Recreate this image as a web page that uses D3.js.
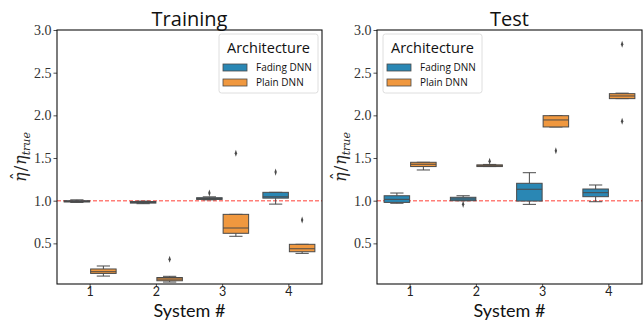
<!DOCTYPE html>
<html>
<head>
<meta charset="utf-8">
<script src="https://cdn.jsdelivr.net/npm/d3@7"></script>
<style>
  body { margin: 0; background: #fff; }
  svg { display: block; }
  .sans { font-family: "Open Sans", "DejaVu Sans", sans-serif; }
  .tick-sans { font-family: Lato, "Open Sans", sans-serif; }
  .serif { font-family: "Liberation Serif", "DejaVu Serif", serif; }
  .math { font-family: "DejaVu Serif", serif; font-style: italic; }
</style>
</head>
<body>
<svg id="chart" width="643" height="321"></svg>
<script>
// categories and series
const systems = ['1', '2', '3', '4'];
const architectures = ['Fading DNN', 'Plain DNN'];
const yTicks = [0.5, 1.0, 1.5, 2.0, 2.5, 3.0];

// box stats per system: [whisker low, q1, median, q3, whisker high]
const trainFading = [
  [0.98, 0.985, 0.99, 1.0, 1.01],
  [0.965, 0.972, 0.98, 0.99, 0.995],
  [1.01, 1.015, 1.025, 1.035, 1.045],
  [0.96, 1.03, 1.045, 1.098, 1.098]
];
const trainFadingOut = [[], [], [1.09], [1.335]];
const trainPlain = [
  [0.117, 0.148, 0.168, 0.20, 0.235],
  [0.047, 0.062, 0.082, 0.10, 0.114],
  [0.583, 0.618, 0.68, 0.84, 0.84],
  [0.383, 0.402, 0.437, 0.489, 0.489]
];
const trainPlainOut = [[], [0.313], [1.556], [0.774]];

const testFading = [
  [0.97, 0.98, 1.016, 1.058, 1.09],
  [1.0, 1.0, 1.02, 1.04, 1.058],
  [0.957, 0.996, 1.134, 1.204, 1.328],
  [0.988, 1.047, 1.094, 1.137, 1.184]
];
const testFadingOut = [[], [0.957], [], []];
const testPlain = [
  [1.36, 1.40, 1.427, 1.45, 1.45],
  [1.40, 1.40, 1.41, 1.42, 1.425],
  [1.864, 1.864, 1.946, 1.996, 1.996],
  [2.196, 2.196, 2.227, 2.254, 2.26]
];
const testPlainOut = [[], [1.462], [1.586], [2.833, 1.93]];

const colors = ['#2a87b4', '#f0983f'];
const edge = '#4a4a4a';

const svg = d3.select('#chart');
const plotTop = 30, plotBottom = 284;

const y = d3.scaleLinear().domain([0.024, 3.0]).range([plotBottom, plotTop]);

function drawPanel(left, right, title, series, outliers, legendLeft) {
  const g = svg.append('g');
  const x = d3.scaleBand().domain(systems).range([left, right]).padding(0);
  const hue = d3.scaleBand().domain(architectures).range([0, x.bandwidth() * 0.8]);

  // reference line
  g.append('line')
    .attr('x1', left).attr('x2', right)
    .attr('y1', y(1.0)).attr('y2', y(1.0))
    .attr('stroke', '#ff7f78').attr('stroke-width', 1.4)
    .attr('stroke-dasharray', '4,2');

  architectures.forEach((arch, ai) => {
    series[ai].forEach((s, si) => {
      const x0 = x(systems[si]) + x.bandwidth() * 0.1 + hue(arch);
      const w = hue.bandwidth();
      const cx = x0 + w / 2;
      const b = g.append('g');
      // whiskers
      b.append('line').attr('x1', cx).attr('x2', cx).attr('y1', y(s[0])).attr('y2', y(s[1]))
        .attr('stroke', edge).attr('stroke-width', 1);
      b.append('line').attr('x1', cx).attr('x2', cx).attr('y1', y(s[3])).attr('y2', y(s[4]))
        .attr('stroke', edge).attr('stroke-width', 1);
      [s[0], s[4]].forEach(v => {
        b.append('line').attr('x1', cx - w / 4).attr('x2', cx + w / 4)
          .attr('y1', y(v)).attr('y2', y(v))
          .attr('stroke', edge).attr('stroke-width', 1);
      });
      b.append('rect')
        .attr('x', x0 + 0.5).attr('width', w - 1)
        .attr('y', y(s[3])).attr('height', Math.max(1, y(s[1]) - y(s[3])))
        .attr('fill', colors[ai]).attr('stroke', edge).attr('stroke-width', 1);
      b.append('line').attr('x1', x0 + 0.5).attr('x2', x0 + w - 0.5)
        .attr('y1', y(s[2])).attr('y2', y(s[2]))
        .attr('stroke', edge).attr('stroke-width', 1);
      outliers[ai][si].forEach(v => {
        b.append('path')
          .attr('d', d3.symbol(d3.symbolDiamond, 10)())
          .attr('transform', `translate(${cx},${y(v)}) scale(0.7,1.2)`)
          .attr('fill', edge);
      });
    });
  });

  // axes
  const yAxis = g.append('g').attr('transform', `translate(${left},0)`)
    .call(d3.axisLeft(y).tickValues(yTicks).tickFormat(d3.format('.1f')).tickSize(3.5).tickPadding(2));
  const xAxis = g.append('g').attr('transform', `translate(0,${plotBottom})`)
    .call(d3.axisBottom(x).tickSize(3).tickPadding(0));
  [yAxis, xAxis].forEach(a => {
    a.select('.domain').remove();
    a.selectAll('line').attr('stroke', '#222').attr('stroke-width', 0.8);
  });
  yAxis.selectAll('text').attr('class', 'serif').style('font-size', '14px').attr('fill', '#333');
  xAxis.selectAll('text').attr('class', 'tick-sans').style('font-size', '12.5px').attr('fill', '#222');

  g.append('rect')
    .attr('x', left).attr('y', plotTop).attr('width', right - left).attr('height', plotBottom - plotTop)
    .attr('fill', 'none').attr('stroke', '#111').attr('stroke-width', 1.1);

  g.append('text').attr('class', 'sans')
    .attr('x', (left + right) / 2).attr('y', 26)
    .attr('text-anchor', 'middle').style('font-size', '20px').attr('fill', '#111')
    .text(title);

  g.append('text').attr('class', 'tick-sans')
    .attr('x', (left + right) / 2).attr('y', 316.5)
    .attr('text-anchor', 'middle').style('font-size', '18px').attr('fill', '#111')
    .text('System #');

  const yl = g.append('text').attr('class', 'math')
    .attr('transform', `translate(${left - 31},${(plotTop + plotBottom) / 2}) rotate(-90)`)
    .attr('text-anchor', 'middle').style('font-size', '16px').attr('fill', '#222');
  yl.append('tspan').text('\u03b7');
  yl.append('tspan').attr('dx', -8).attr('dy', -3).style('font-style', 'normal').text('\u02c6');
  yl.append('tspan').attr('dx', 1).attr('dy', 3).style('font-style', 'normal').text('/');
  yl.append('tspan').attr('dx', 1).text('\u03b7');
  yl.append('tspan').attr('dy', 4).style('font-size', '11px').text('true');

  // legend
  const lg = g.append('g').attr('transform', `translate(${legendLeft},34)`);
  lg.append('rect').attr('width', 99).attr('height', 59).attr('rx', 2.5)
    .attr('fill', 'rgba(255,255,255,0.8)').attr('stroke', '#d6d6d6').attr('stroke-width', 0.8);
  lg.append('text').attr('class', 'sans').attr('x', 49.5).attr('y', 19)
    .attr('text-anchor', 'middle').style('font-size', '14.5px').attr('fill', '#111').text('Architecture');
  architectures.forEach((arch, i) => {
    lg.append('rect').attr('x', 4).attr('y', 30 + i * 15).attr('width', 24).attr('height', 7)
      .attr('fill', colors[i]).attr('stroke', edge).attr('stroke-width', 0.8);
    lg.append('text').attr('class', 'sans').attr('x', 37).attr('y', 37 + i * 15)
      .style('font-size', '10px').attr('fill', '#111').text(arch);
  });
}

drawPanel(57, 322, 'Training', [trainFading, trainPlain], [trainFadingOut, trainPlainOut], 219);
drawPanel(377, 642, 'Test', [testFading, testPlain], [testFadingOut, testPlainOut], 383);
</script>
</body>
</html>
